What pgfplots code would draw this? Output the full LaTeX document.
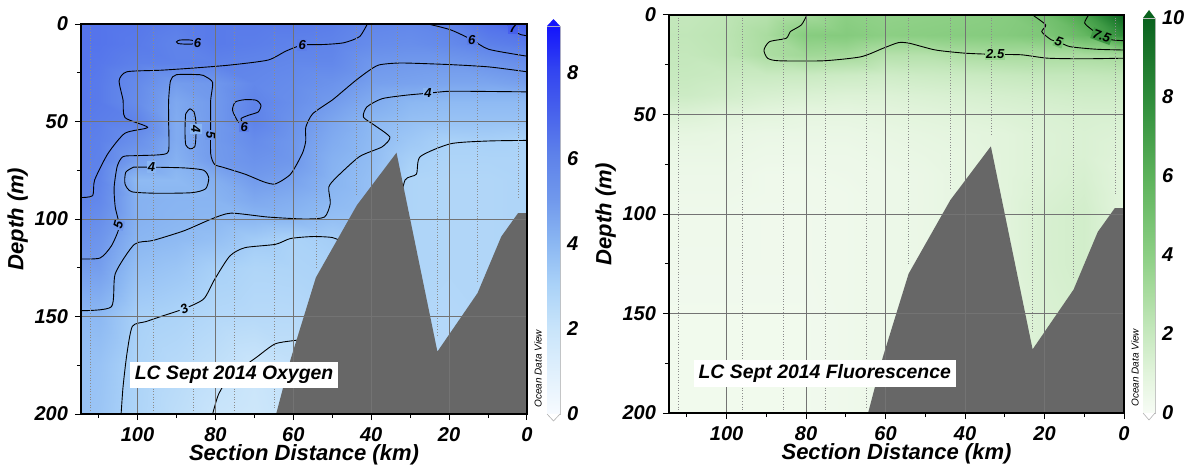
\documentclass[border=0pt]{standalone}
\usepackage{pgfplots}
\pgfplotsset{compat=1.18}
\usepackage{fontspec}
\setmainfont{Liberation Sans}
\definecolor{bathy}{RGB}{103,103,103}
\definecolor{oxA}{RGB}{92,126,233}
\definecolor{oxB}{RGB}{112,152,236}
\definecolor{oxC}{RGB}{138,182,242}
\definecolor{oxD}{RGB}{170,210,248}
\definecolor{oxE}{RGB}{70,95,236}
\definecolor{oxTop}{RGB}{20,20,252}
\definecolor{flA}{RGB}{150,212,142}
\definecolor{flB}{RGB}{118,194,113}
\definecolor{flC}{RGB}{62,152,68}
\definecolor{flTop}{RGB}{10,98,30}
\pgfplotsset{
 colormap={oxy}{rgb255(0cm)=(247,251,255); rgb255(2cm)=(200,228,250); rgb255(3cm)=(170,210,248); rgb255(4cm)=(138,182,242); rgb255(5cm)=(112,152,236); rgb255(6cm)=(94,130,234); rgb255(7cm)=(72,98,236); rgb255(8cm)=(50,68,240); rgb255(9cm)=(20,20,252)},
 colormap={flu}{rgb255(0cm)=(247,252,245); rgb255(1cm)=(226,244,220); rgb255(2cm)=(199,233,191); rgb255(3cm)=(170,220,160); rgb255(4cm)=(140,207,132); rgb255(6cm)=(92,178,90); rgb255(8cm)=(46,140,58); rgb255(10cm)=(10,98,30)},
 odv/.style={
  scale only axis, x dir=reverse, y dir=reverse,
  xmin=0, xmax=114.5, ymin=0, ymax=200, enlargelimits=false,
  xtick={0,20,...,100}, ytick={0,50,...,200},
  minor xtick={10,30,...,110}, minor ytick={25,75,...,175},
  xtick pos=left, ytick pos=left, tick align=outside,
  major tick length=3pt, minor tick length=2pt,
  tick style={black, line width=0.5pt},
  grid=major, major grid style={black!55, line width=0.35pt},
  axis on top,
  axis line style={line width=0.9pt},
  ticklabel style={font=\fontsize{10}{12}\selectfont\bfseries\itshape},
  /pgf/number format/assume math mode=true,
  xlabel={Section Distance (km)}, ylabel={Depth (m)},
  label style={font=\fontsize{11}{13}\selectfont\bfseries\itshape},
  xlabel style={yshift=5pt},
  ylabel shift=-3.5pt,
  colorbar,
  colorbar style={
   at={(parent axis.south east)}, anchor=south west,
   scale only axis, x dir=normal, y dir=normal, grid=none,
   xlabel={}, ylabel={}, xtick=\empty,
   axis on top=false,
   axis line style={draw=black!25, line width=0.3pt},
   ytick style={draw=none},
   yticklabel pos=right,
   yticklabel style={font=\fontsize{10}{12}\selectfont\bfseries\itshape},
   /pgf/number format/assume math mode=true,
   clip=false,
  },
 },
 cl/.style={black, line width=0.45pt, smooth, tension=0.4},
 st/.style={ycomb, densely dotted, black!45, line width=0.35pt, mark=none},
}
\tikzset{
 clab/.style={font=\fontsize{6.5}{7}\selectfont\bfseries\itshape, inner sep=0.6pt},
 titlebox/.style={fill=white, font=\fontsize{9.7}{11}\selectfont\bfseries\itshape, inner xsep=2.5pt, inner ysep=2.2pt},
 odvtxt/.style={rotate=90, anchor=west, font=\fontsize{5}{6}\selectfont\itshape, inner sep=0pt},
}
\begin{document}
\begin{tikzpicture}
\path[use as bounding box] (0pt,0pt) rectangle (592.5pt,232.5pt);
% ---------------- Oxygen ----------------
\begin{axis}[odv, name=ax1, at={(40.5pt,25.5pt)}, anchor=south west,
  width=223pt, height=195pt,
  colormap name=oxy, point meta min=0, point meta max=9.1,
  colorbar/width=6.5pt,
  colorbar style={width=6.5pt, height=194pt, xshift=1.47pt,
    ymin=0, ymax=9.1, ytick={0,2,4,6,8},
    after end axis/.code={
      \fill[oxTop] (rel axis cs:0,1) -- (rel axis cs:1,1) -- ([yshift=3.5pt]rel axis cs:0.5,1) -- cycle;
      \filldraw[fill=white, draw=black!30, line width=0.3pt] (rel axis cs:0,0) -- ([yshift=-3.5pt]rel axis cs:0.5,0) -- (rel axis cs:1,0);
    }},
]
\addplot[surf, shader=interp, mesh/cols=13, point meta=explicit] coordinates {
(0,0)[7.2] (10,0)[6.6] (20,0)[6.05] (30,0)[5.8] (40,0)[5.9] (50,0)[6.2] (60,0)[6.3] (70,0)[6.3] (80,0)[6.3] (90,0)[6.2] (100,0)[6.4] (110,0)[6.5] (114.5,0)[6.5]
(0,10)[6.3] (10,10)[6.1] (20,10)[5.7] (30,10)[5.5] (40,10)[5.6] (50,10)[6.0] (60,10)[6.05] (70,10)[6.2] (80,10)[6.3] (90,10)[6.0] (100,10)[6.3] (110,10)[6.5] (114.5,10)[6.5]
(0,20)[5.5] (10,20)[5.2] (20,20)[5.0] (30,20)[5.0] (40,20)[5.1] (50,20)[5.8] (60,20)[5.8] (70,20)[5.95] (80,20)[6.05] (90,20)[6.05] (100,20)[6.1] (110,20)[6.4] (114.5,20)[6.5]
(0,30)[4.8] (10,30)[4.6] (20,30)[4.6] (30,30)[4.7] (40,30)[4.8] (50,30)[5.3] (60,30)[5.6] (70,30)[5.8] (80,30)[5.1] (90,30)[4.9] (100,30)[5.7] (110,30)[6.3] (114.5,30)[6.4]
(0,40)[3.9] (10,40)[3.9] (20,40)[3.9] (30,40)[4.0] (40,40)[4.4] (50,40)[4.95] (60,40)[5.5] (70,40)[6.0] (80,40)[5.0] (90,40)[4.5] (100,40)[5.6] (110,40)[6.3] (114.5,40)[6.4]
(0,50)[3.6] (10,50)[3.6] (20,50)[3.6] (30,50)[3.7] (40,50)[4.0] (50,50)[4.6] (60,50)[5.3] (70,50)[6.05] (80,50)[5.0] (90,50)[4.4] (100,50)[6.0] (110,50)[6.2] (114.5,50)[6.3]
(0,60)[3.0] (10,60)[3.1] (20,60)[3.05] (30,60)[3.4] (40,60)[3.9] (50,60)[4.4] (60,60)[5.1] (70,60)[5.6] (80,60)[5.0] (90,60)[4.4] (100,60)[5.4] (110,60)[6.1] (114.5,60)[6.2]
(0,70)[2.9] (10,70)[2.9] (20,70)[2.9] (30,70)[3.1] (40,70)[3.8] (50,70)[4.2] (60,70)[5.05] (70,70)[5.3] (80,70)[4.95] (90,70)[4.2] (100,70)[4.8] (110,70)[6.05] (114.5,70)[6.15]
(0,80)[2.9] (10,80)[2.8] (20,80)[2.8] (30,80)[2.9] (40,80)[3.7] (50,80)[4.1] (60,80)[4.7] (70,80)[4.95] (80,80)[4.3] (90,80)[3.9] (100,80)[3.9] (110,80)[5.95] (114.5,80)[6.1]
(0,90)[2.9] (10,90)[2.8] (20,90)[2.8] (30,90)[2.9] (40,90)[3.7] (50,90)[3.95] (60,90)[4.3] (70,90)[4.5] (80,90)[4.1] (90,90)[4.1] (100,90)[4.2] (110,90)[5.8] (114.5,90)[5.98]
(0,100)[2.9] (10,100)[2.8] (20,100)[2.8] (30,100)[2.9] (40,100)[3.6] (50,100)[3.7] (60,100)[4.0] (70,100)[4.0] (80,100)[4.0] (90,100)[4.05] (100,100)[4.2] (110,100)[5.5] (114.5,100)[5.7]
(0,110)[2.9] (10,110)[2.8] (20,110)[2.8] (30,110)[2.9] (40,110)[3.4] (50,110)[3.2] (60,110)[3.0] (70,110)[3.3] (80,110)[3.7] (90,110)[3.9] (100,110)[4.05] (110,110)[5.2] (114.5,110)[5.4]
(0,125)[2.9] (10,125)[2.8] (20,125)[2.8] (30,125)[2.9] (40,125)[3.2] (50,125)[3.0] (60,125)[2.9] (70,125)[2.85] (80,125)[3.1] (90,125)[3.5] (100,125)[3.7] (110,125)[4.85] (114.5,125)[4.9]
(0,150)[2.9] (10,150)[2.8] (20,150)[2.7] (30,150)[2.8] (40,150)[3.0] (50,150)[2.8] (60,150)[2.6] (70,150)[2.6] (80,150)[2.7] (90,150)[2.95] (100,150)[3.1] (110,150)[3.95] (114.5,150)[3.95]
(0,175)[2.9] (10,175)[2.8] (20,175)[2.6] (30,175)[2.7] (40,175)[2.8] (50,175)[2.6] (60,175)[2.2] (70,175)[1.95] (80,175)[2.3] (90,175)[2.6] (100,175)[2.95] (110,175)[3.6] (114.5,175)[3.7]
(0,200)[2.9] (10,200)[2.8] (20,200)[2.6] (30,200)[2.6] (40,200)[2.6] (50,200)[2.4] (60,200)[2.2] (70,200)[1.8] (80,200)[2.0] (90,200)[2.4] (100,200)[2.9] (110,200)[3.5] (114.5,200)[3.6]
};
% contours
\addplot[cl] coordinates {(41,0) (43,6.5) (47,9.6) (52,10.5) (57.7,10.8) (62,14) (66.5,18.5) (76,21) (85,22.5) (94,23.7) (102.7,24.5) (104.7,29) (103.7,39) (103.2,48) (97.4,53) (103.2,56) (107.6,66.5) (111,80) (111.5,88) (114.5,89)};
\addplot[cl] coordinates {(25.4,0) (19.6,3) (14.2,8) (9.8,13) (0,16.5)};
\addplot[cl] coordinates {(5,0) (3.5,3.5) (1.5,5.5) (0,6)};
\addplot[cl] coordinates {(85.1,9.8) (86.1,10.3) (88,10.3) (89.6,10) (90,9.2) (89.3,8.3) (87.5,8.1) (86.1,8.3) (85.1,9.0)};
\addplot[cl] coordinates {(72.9,51.1) (73.4,48.5) (71.5,46.8) (69,45.1) (68.3,41.7) (69.5,39.1) (72.4,38.8) (74.9,40) (75.6,44.2) (74.4,49.4) (73.2,52)};
\addplot[cl] coordinates {(0,24.5) (9.8,22) (20,20.8) (32.3,20) (38,21) (41,24.5) (44,29) (47,34) (50,39) (55,46) (56.8,53) (56.8,60) (57.7,66.5) (60.7,77) (64.6,82) (67.5,81) (72.4,77) (78,73.5) (80.2,72) (81.2,66.5) (81.2,50) (81.2,39) (80.7,30) (82.5,27) (84,26) (90,26) (91.5,29) (92,39) (92,50) (92,65) (94,67) (100,67.5) (103.7,68) (105.2,73) (106,84) (105.7,94) (104.7,104) (106.7,113.8) (109.6,120) (114.5,120.5)};
\addplot[cl] coordinates {(86.5,43.5) (87.6,46) (87.8,55) (87.6,62) (86.5,64) (85.3,63) (85,58) (85,50) (85.5,45) (86.5,43.5)};
\addplot[cl] coordinates {(101,73.4) (96.4,73.4) (88,73.8) (83,75) (81.7,79) (82.5,84.5) (86,86.5) (95,86.8) (101.5,86) (103.2,82) (103,76) (101,73.4)};
\addplot[cl] coordinates {(0,34.8) (10,34.6) (20,34.5) (25.4,35.5) (31,36.5) (37.2,38.3) (41.1,42.5) (42,47.7) (39.1,52) (35.2,58) (37.2,63) (43,68) (48.9,78.6) (50.9,83.7) (50.5,92) (52,99) (57,100) (66.5,99) (76,97) (81,100) (88,106) (96,111) (100.8,113) (105.7,128) (106.7,145) (114.5,147)};
\addplot[cl] coordinates {(47,112) (50,109.5) (55,109) (60.7,110) (64.6,113) (72.4,114.7) (76.3,119) (80.2,131) (83,141) (88,146) (94,150) (97.8,152.6) (101.3,155) (102.7,169) (103.7,186) (104.2,200)};
\addplot[cl] coordinates {(0,59.7) (10,60) (19.6,61.4) (27.4,68) (28.4,77) (31.3,80) (33,95)};
\addplot[cl] coordinates {(55,160) (58.7,162) (64.6,164) (69.5,171) (76.3,181) (79.2,190) (80.7,200)};
% bathymetry
\addplot[fill=bathy, draw=none] coordinates {(64.4,200) (60.7,172) (54.2,130) (43.7,93) (33.5,66) (23,168) (12.7,138) (6.6,109) (2.3,97) (0,97) (0,200)} -- cycle;
% stations
\addplot[st] coordinates {(112.2,200) (96,200) (85.6,200) (75.2,200) (64.8,197) (54.2,125) (43.7,88) (33.3,60) (23,160) (12.7,132) (2.2,90)};
% labels
\node[clab, fill=oxA] at (axis cs:57.7,10.8) {6};
\node[clab, fill=oxA] at (axis cs:14.2,8) {6};
\node[clab, fill=oxA] at (axis cs:84.6,9.6) {6};
\node[clab, fill=oxA] at (axis cs:72.6,52.6) {6};
\node[clab, fill=oxE] at (axis cs:3.6,2.2) {7};
\node[clab, fill=oxB, rotate=-90] at (axis cs:81.2,57) {5};
\node[clab, fill=oxC, rotate=-90] at (axis cs:85,54) {4};
\node[clab, fill=oxC] at (axis cs:96.4,73.4) {4};
\node[clab, fill=oxC] at (axis cs:25.4,35.5) {4};
\node[clab, fill=oxB, rotate=75] at (axis cs:104.9,103) {5};
\node[clab, fill=oxD, rotate=25] at (axis cs:88,146) {3};
\coordinate (T1) at (axis cs:75.2,180);
\end{axis}
\node[titlebox] at (T1) {LC Sept 2014 Oxygen};
\node[odvtxt] at ([xshift=5.5pt,yshift=3pt]ax1.south east) {Ocean Data View};
% ---------------- Fluorescence ----------------
\begin{axis}[odv, name=ax2, at={(334.5pt,26pt)}, anchor=south west,
  width=227.5pt, height=199pt,
  colormap name=flu, point meta min=0, point meta max=10,
  colorbar/width=6pt,
  colorbar style={width=6pt, height=197.5pt, xshift=0.97pt,
    ymin=0, ymax=10, ytick={0,2,4,6,8,10},
    after end axis/.code={
      \fill[flTop] (rel axis cs:0,1) -- (rel axis cs:1,1) -- ([yshift=4pt]rel axis cs:0.5,1) -- cycle;
      \filldraw[fill=white, draw=black!30, line width=0.3pt] (rel axis cs:0,0) -- ([yshift=-3.5pt]rel axis cs:0.5,0) -- (rel axis cs:1,0);
    }},
]
\addplot[surf, shader=interp, mesh/cols=13, point meta=explicit] coordinates {
(0,0)[10] (10,0)[6.8] (20,0)[5.0] (30,0)[4.2] (40,0)[4.0] (50,0)[3.9] (60,0)[3.8] (70,0)[4.0] (80,0)[3.2] (90,0)[2.6] (100,0)[2.3] (110,0)[2.1] (114.5,0)[2.1]
(0,10)[8.0] (10,10)[5.6] (20,10)[4.6] (30,10)[4.3] (40,10)[4.2] (50,10)[4.1] (60,10)[4.0] (70,10)[4.3] (80,10)[4.2] (90,10)[3.0] (100,10)[2.4] (110,10)[2.2] (114.5,10)[2.2]
(0,20)[3.2] (10,20)[3.0] (20,20)[3.0] (30,20)[3.0] (40,20)[2.9] (50,20)[2.6] (60,20)[2.6] (70,20)[3.2] (80,20)[3.3] (90,20)[2.9] (100,20)[2.3] (110,20)[2.1] (114.5,20)[2.1]
(0,30)[2.2] (10,30)[2.1] (20,30)[2.1] (30,30)[2.0] (40,30)[1.9] (50,30)[1.8] (60,30)[1.7] (70,30)[1.8] (80,30)[1.9] (90,30)[1.9] (100,30)[1.9] (110,30)[2.0] (114.5,30)[2.0]
(0,40)[1.7] (10,40)[1.7] (20,40)[1.6] (30,40)[1.5] (40,40)[1.4] (50,40)[1.3] (60,40)[1.2] (70,40)[1.2] (80,40)[1.3] (90,40)[1.4] (100,40)[1.6] (110,40)[1.8] (114.5,40)[1.8]
(0,50)[1.4] (10,50)[1.4] (20,50)[1.3] (30,50)[1.2] (40,50)[1.1] (50,50)[1.0] (60,50)[0.9] (70,50)[0.8] (80,50)[0.8] (90,50)[0.9] (100,50)[1.0] (110,50)[1.2] (114.5,50)[1.2]
(0,60)[1.2] (10,60)[1.3] (20,60)[1.2] (30,60)[1.0] (40,60)[0.9] (50,60)[0.8] (60,60)[0.7] (70,60)[0.6] (80,60)[0.6] (90,60)[0.6] (100,60)[0.7] (110,60)[0.8] (114.5,60)[0.8]
(0,70)[1.1] (10,70)[1.3] (20,70)[1.2] (30,70)[1.0] (40,70)[0.8] (50,70)[0.7] (60,70)[0.6] (70,70)[0.5] (80,70)[0.5] (90,70)[0.5] (100,70)[0.6] (110,70)[0.6] (114.5,70)[0.6]
(0,80)[1.0] (10,80)[1.4] (20,80)[1.2] (30,80)[1.0] (40,80)[0.8] (50,80)[0.6] (60,80)[0.5] (70,80)[0.45] (80,80)[0.4] (90,80)[0.4] (100,80)[0.5] (110,80)[0.5] (114.5,80)[0.5]
(0,90)[1.0] (10,90)[1.5] (20,90)[1.3] (30,90)[1.0] (40,90)[0.8] (50,90)[0.6] (60,90)[0.5] (70,90)[0.4] (80,90)[0.4] (90,90)[0.4] (100,90)[0.45] (110,90)[0.45] (114.5,90)[0.45]
(0,100)[1.0] (10,100)[1.6] (20,100)[1.4] (30,100)[1.0] (40,100)[0.8] (50,100)[0.6] (60,100)[0.5] (70,100)[0.4] (80,100)[0.35] (90,100)[0.35] (100,100)[0.4] (110,100)[0.4] (114.5,100)[0.4]
(0,110)[1.0] (10,110)[1.6] (20,110)[1.4] (30,110)[1.0] (40,110)[0.8] (50,110)[0.6] (60,110)[0.5] (70,110)[0.4] (80,110)[0.35] (90,110)[0.35] (100,110)[0.4] (110,110)[0.4] (114.5,110)[0.4]
(0,125)[1.0] (10,125)[1.6] (20,125)[1.4] (30,125)[1.0] (40,125)[0.8] (50,125)[0.6] (60,125)[0.5] (70,125)[0.4] (80,125)[0.35] (90,125)[0.35] (100,125)[0.35] (110,125)[0.35] (114.5,125)[0.35]
(0,150)[1.0] (10,150)[1.5] (20,150)[1.3] (30,150)[1.0] (40,150)[0.8] (50,150)[0.6] (60,150)[0.5] (70,150)[0.4] (80,150)[0.3] (90,150)[0.3] (100,150)[0.3] (110,150)[0.3] (114.5,150)[0.3]
(0,175)[1.0] (10,175)[1.5] (20,175)[1.3] (30,175)[1.0] (40,175)[0.8] (50,175)[0.6] (60,175)[0.5] (70,175)[0.4] (80,175)[0.3] (90,175)[0.3] (100,175)[0.3] (110,175)[0.3] (114.5,175)[0.3]
(0,200)[1.0] (10,200)[1.5] (20,200)[1.3] (30,200)[1.0] (40,200)[0.8] (50,200)[0.6] (60,200)[0.5] (70,200)[0.4] (80,200)[0.3] (90,200)[0.3] (100,200)[0.3] (110,200)[0.3] (114.5,200)[0.3]
};
\addplot[cl] coordinates {(79.8,0) (81.2,5) (84,8.4) (85,11.7) (89.2,13.4) (90.6,17.6) (89.7,21.7) (86.9,23) (75.6,23) (66.2,21) (60.6,16.7) (56.8,13.9) (54,14.2) (47.4,17.6) (39.9,19.2) (32.4,19.8) (25.8,20) (19.2,21.7) (9.9,22) (0,21.7)};
\addplot[cl] coordinates {(23,0) (19.7,5) (20.7,8.4) (18.3,12.5) (16.4,13.5) (13.6,15.9) (7,17.2) (0,17.6)};
\addplot[cl] coordinates {(8.9,0) (9.9,4) (8,7.5) (5.6,11) (3,12.5) (0,12.9)};
\addplot[fill=bathy, draw=none] coordinates {(64.4,200) (60.7,172) (54.2,130) (43.7,93) (33.5,66) (23,168) (12.7,138) (6.6,109) (2.3,97) (0,97) (0,200)} -- cycle;
\addplot[st] coordinates {(112.2,200) (96,200) (85.6,200) (75.2,200) (64.8,197) (54.2,125) (43.7,88) (33.3,60) (23,160) (12.7,132) (2.2,90)};
\node[clab, fill=flA] at (axis cs:32.4,19.8) {2.5};
\node[clab, fill=flB, rotate=-20] at (axis cs:16.4,13.3) {5};
\node[clab, fill=flC, rotate=-20] at (axis cs:5.6,10.6) {7.5};
\coordinate (T2) at (axis cs:75.3,180);
\end{axis}
\node[titlebox] at (T2) {LC Sept 2014 Fluorescence};
\node[odvtxt] at ([xshift=5.5pt,yshift=3pt]ax2.south east) {Ocean Data View};
\end{tikzpicture}
\end{document}
